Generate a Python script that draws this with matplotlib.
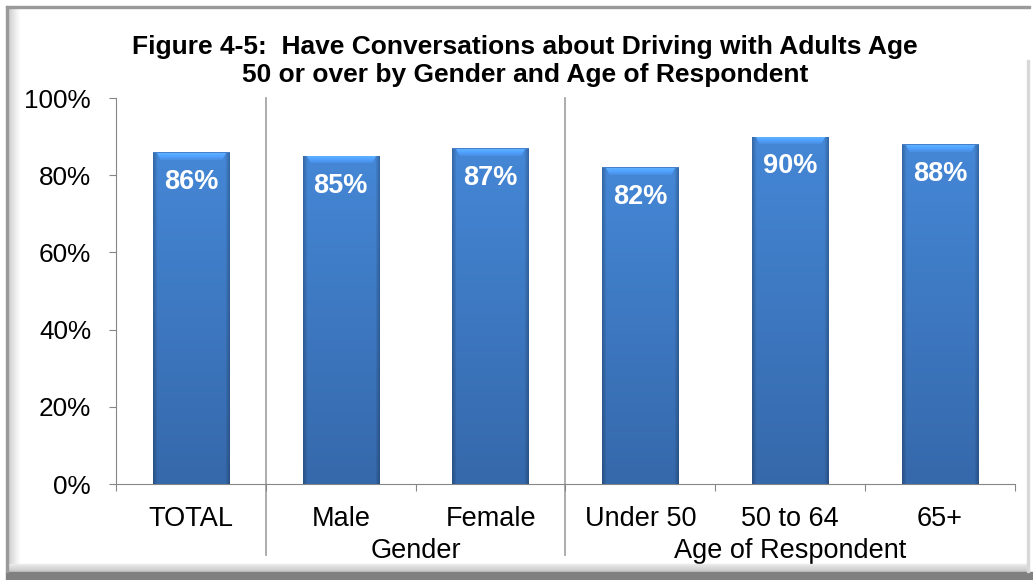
import numpy as np
import matplotlib
matplotlib.use("Agg")
from matplotlib import pyplot as plt
from matplotlib.patches import Rectangle

plt.rcParams['font.family'] = ['Liberation Sans', 'DejaVu Sans']

# data
categories = ['TOTAL', 'Male', 'Female', 'Under 50', '50 to 64', '65+']
values = [86, 85, 87, 82, 90, 88]
labels = ['86%', '85%', '87%', '82%', '90%', '88%']
groups = ['Gender', 'Age of Respondent']
group_centers = [1.5, 4.0]
separators = [0.5, 2.5]
yticks = [0, 20, 40, 60, 80, 100]

W, H = 1033, 580
fig = plt.figure(figsize=(W / 100, H / 100), dpi=100)

def px(x0, y0, w, h):
    '''figure fraction box from pixel coords (top-left origin)'''
    return (x0 / W, 1 - (y0 + h) / H), w / W, h / H

# frame: bevel + shadow
for i in range(10):
    c = 0.80 + 0.018 * i
    xy, w, h = px(8 + i, 8, 1, 562)
    fig.patches.append(Rectangle(xy, w, h, transform=fig.transFigure, color=(c, c, c), zorder=0))
for i in range(8):
    c = 0.92 - 0.02 * i
    xy, w, h = px(8, 564 + i, 1020, 1)
    fig.patches.append(Rectangle(xy, w, h, transform=fig.transFigure, color=(c, c, c), zorder=0))
xy, w, h = px(6, 572, 1027, 8)
fig.patches.append(Rectangle(xy, w, h, transform=fig.transFigure, color='#808080', zorder=0))
xy, w, h = px(6, 6, 2, 566)
fig.patches.append(Rectangle(xy, w, h, transform=fig.transFigure, color='#9a9a9a', zorder=0))
xy, w, h = px(6, 6, 1024, 2)
fig.patches.append(Rectangle(xy, w, h, transform=fig.transFigure, color='#9a9a9a', zorder=0))
xy, w, h = px(1027, 60, 2, 512)
fig.patches.append(Rectangle(xy, w, h, transform=fig.transFigure, color='#d8d8d8', zorder=0))

ax = fig.add_axes([116 / W, (H - 484) / H, (1015 - 116) / W, (484 - 98) / H])
ax.set_xlim(-0.5, 5.5)
ax.set_ylim(0, 100)
ax.patch.set_alpha(0)

x = np.arange(len(categories))
bw = 0.51
bars = ax.bar(x, values, width=bw, color='#3f7dcc', zorder=2)

# gradient fill for the bevel look
ppu_y = 386 / 100.0
ppu_x = 150.0
for b, v in zip(bars, values):
    nh = int(v * ppu_y)
    nw = int(bw * ppu_x)
    t = np.linspace(0, 1, nh)[:, None]
    top = np.array([0.27, 0.53, 0.84])
    bot = np.array([0.21, 0.41, 0.67])
    base = top * (1 - t) + bot * t
    img = np.broadcast_to(base[:, None, :], (nh, nw, 3)).copy()
    # darker sides
    for k in range(4):
        f = 0.78 + 0.05 * k
        img[:, k] *= f
        img[:, nw - 1 - k] *= f
    # lighter top bevel
    for k in range(8):
        f = 1.35 - 0.04 * k
        img[k, 4 + k // 2:nw - 4 - k // 2] = np.clip(img[k, 4 + k // 2:nw - 4 - k // 2] * f, 0, 1)
    img[0] = [0.28, 0.50, 0.80]
    im = ax.imshow(np.clip(img, 0, 1), extent=(b.get_x(), b.get_x() + bw, 0, v),
                   aspect='auto', zorder=3, interpolation='bilinear')
    im.set_clip_path(b)
    b.set_facecolor('none')

for xi, v, lab in zip(x, values, labels):
    ax.annotate(lab, (xi, v), xytext=(0, -21.5), textcoords='offset points',
                ha='center', va='center', color='white', fontsize=19.5, fontweight='bold', zorder=4)

# axes styling
for s in ['top', 'right']:
    ax.spines[s].set_visible(False)
ax.spines['left'].set_color('#868686')
ax.spines['bottom'].set_color('#868686')
ax.set_yticks(yticks)
ax.set_yticklabels([f'{t}%' for t in yticks])
ax.tick_params(axis='y', direction='out', length=5, color='#868686', labelsize=18.8, pad=13)
ax.set_xticks(np.arange(-0.5, 6, 1))
ax.set_xticklabels([])
ax.tick_params(axis='x', direction='out', length=5, color='#868686')

for xi, c in zip(x, categories):
    ax.text(xi, -0.09, c, transform=ax.get_xaxis_transform(), ha='center', va='center', fontsize=19.5)
for gc, g in zip(group_centers, groups):
    ax.text(gc, -0.173, g, transform=ax.get_xaxis_transform(), ha='center', va='center', fontsize=19.5)
for s in separators:
    ax.plot([s, s], [1, -0.184], transform=ax.get_xaxis_transform(), color='#a6a6a6', lw=1.3, clip_on=False, zorder=1)

fig.text(525 / W, 1 - 61 / H, 'Figure 4-5:  Have Conversations about Driving with Adults Age\n50 or over by Gender and Age of Respondent',
         ha='center', va='center', fontsize=19, fontweight='bold', linespacing=1.22)

fig.savefig('out.png', dpi=100)
